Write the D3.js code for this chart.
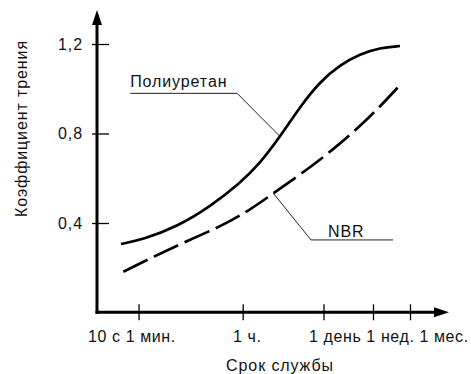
<!DOCTYPE html>
<html><head><meta charset="utf-8">
<script src="https://cdn.jsdelivr.net/npm/d3@7"></script>
<style>
html,body{margin:0;padding:0;background:#fff;}
svg{display:block;}
text{font-family:"Liberation Sans",Arial,Helvetica,sans-serif;font-size:16px;letter-spacing:0.9px;fill:#111;}
text.xl{letter-spacing:0.6px;}
</style></head>
<body><svg id="c" width="471" height="374"></svg>
<script>
// ---- data (time in seconds, friction coefficient) ----
const tickTimes = [60, 3600, 86400, 604800, 2592000];
const xLabels = ["10 с", "1 мин.", "1 ч.", "1 день", "1 нед.", "1 мес."];
const xLabelTimes = [10, 60, 3600, 86400, 604800, 2592000];
const yTicks = [0.4, 0.8, 1.2];

const puTime  = [30, 73, 270, 1000, 3250, 7130, 15700, 34400, 75400, 165000, 363000, 796000, 1750000];
const puValue = [0.306, 0.327, 0.383, 0.473, 0.578, 0.667, 0.786, 0.920, 1.032, 1.106, 1.155, 1.183, 1.191];

const nbrTime  = [33, 108, 400, 1480, 4800, 12000, 44700, 145000, 413000, 906000, 1750000];
const nbrValue = [0.182, 0.249, 0.320, 0.383, 0.458, 0.533, 0.637, 0.741, 0.846, 0.935, 1.017];

const seriesNames = ["Полиуретан", "NBR"];
const yTitle = "Коэффициент трения";
const xTitle = "Срок службы";

// ---- layout ----
const svg = d3.select("#c");
const axisX0 = 97, axisY0 = 312.3, axisTop = 10, axisRight = 449;
const x = d3.scaleLog().domain([10, 2592000]).range([93, 410]);
const y = d3.scaleLinear().domain([0, 1.2]).range([312.5, 44]);

// axes lines + arrows
svg.append("line").attr("x1", axisX0).attr("x2", axisX0).attr("y1", axisTop + 12).attr("y2", axisY0 + 1.5)
  .attr("stroke", "#000").attr("stroke-width", 3);
svg.append("line").attr("x1", axisX0 - 1.5).attr("x2", axisRight - 12).attr("y1", axisY0).attr("y2", axisY0)
  .attr("stroke", "#000").attr("stroke-width", 3);
svg.append("path").attr("d", `M${axisX0},${axisTop} L${axisX0 - 5},${axisTop + 15} L${axisX0 + 5},${axisTop + 15} Z`).attr("fill", "#000");
svg.append("path").attr("d", `M${axisRight},${axisY0} L${axisRight - 15},${axisY0 - 5} L${axisRight - 15},${axisY0 + 5} Z`).attr("fill", "#000");

// x ticks
const gx = svg.append("g").attr("transform", `translate(0,${axisY0 - 8})`)
  .call(d3.axisBottom(x).tickValues(tickTimes).tickSize(16).tickFormat(""));
gx.select(".domain").remove();
gx.selectAll(".tick line").attr("stroke", "#000").attr("stroke-width", 1.3);

// x labels: a label either starts a new run (offset from its time)
// or follows the previous label after one space
const runStartDx = [-5, null, -9.6, -14.5, null, null];
const gl = svg.append("g");
let cursor = 0;
const spaceW = 5;
xLabels.forEach((lab, i) => {
  const sx = runStartDx[i] === null ? cursor + spaceW : x(xLabelTimes[i]) + runStartDx[i];
  const t = gl.append("text").attr("class", "xl").attr("x", sx).attr("y", 341.5).attr("text-anchor", "start").text(lab);
  cursor = sx + t.node().getComputedTextLength();
});

// y ticks
const gy = svg.append("g").attr("transform", `translate(${axisX0 + 12},0)`)
  .call(d3.axisLeft(y).tickValues(yTicks).tickSize(17).tickPadding(9)
    .tickFormat(d => d.toFixed(1).replace(".", ",")));
gy.select(".domain").remove();
gy.selectAll(".tick line").attr("stroke", "#000").attr("stroke-width", 1.3);
gy.selectAll(".tick text").attr("font-size", 16).attr("fill", "#111")
  .attr("font-family", '"Liberation Sans",Arial,sans-serif');

// titles
svg.append("text").attr("transform", "translate(26.5,128.5) rotate(-90)")
  .attr("text-anchor", "middle").text(yTitle);
svg.append("text").attr("x", 280).attr("y", 370.5).attr("text-anchor", "middle").text(xTitle);

// curves
const line = d3.line().x(d => x(d[0])).y(d => y(d[1])).curve(d3.curveBasis);
const pu = puTime.map((t, i) => [t, puValue[i]]);
const nbr = nbrTime.map((t, i) => [t, nbrValue[i]]);
svg.append("path").attr("d", line(pu)).attr("fill", "none").attr("stroke", "#000").attr("stroke-width", 2.7);
svg.append("path").attr("d", line(nbr)).attr("fill", "none").attr("stroke", "#000").attr("stroke-width", 2.7)
  .attr("stroke-dasharray", "27,7");

// leaders
const puAnchor = pu[6], nbrAnchor = nbr[5];
const pa = [x(puAnchor[0]), y(puAnchor[1])];
const pb = [pa[0] - 43, pa[1] - 43.3];
svg.append("polyline").attr("points", `${pa} ${pb} ${pb[0] - 107},${pb[1]}`)
  .attr("fill", "none").attr("stroke", "#222").attr("stroke-width", 1);
svg.append("text").attr("x", pb[0] - 107).attr("y", pb[1] - 6).text(seriesNames[0]);

const na = [x(nbrAnchor[0]), y(nbrAnchor[1])];
const nb = [na[0] + 37.7, na[1] + 46.7];
svg.append("polyline").attr("points", `${na} ${nb} ${nb[0] + 82},${nb[1]}`)
  .attr("fill", "none").attr("stroke", "#222").attr("stroke-width", 1);
svg.append("text").attr("x", nb[0] + 17).attr("y", nb[1] - 3.3).text(seriesNames[1]);
</script></body></html>
